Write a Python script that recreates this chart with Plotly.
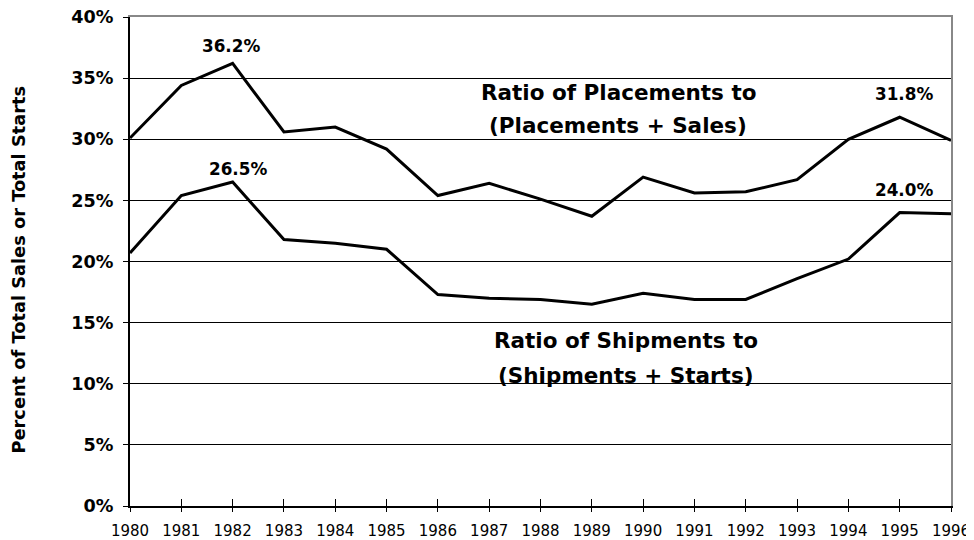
import plotly.graph_objects as go

years = list(range(1980, 1997))
placements_ratio = [30.1, 34.4, 36.2, 30.6, 31.0, 29.2, 25.4, 26.4, 25.1, 23.7,
                    26.9, 25.6, 25.7, 26.7, 30.0, 31.8, 29.9]
shipments_ratio = [20.7, 25.4, 26.5, 21.8, 21.5, 21.0, 17.3, 17.0, 16.9, 16.5,
                   17.4, 16.9, 16.9, 18.6, 20.2, 24.0, 23.9]
y_ticks = [0, 5, 10, 15, 20, 25, 30, 35, 40]
y_tick_labels = [f"{v}%" for v in y_ticks]
placements_label = ["Ratio of Placements to", "(Placements + Sales)"]
shipments_label = ["Ratio of Shipments to", "(Shipments + Starts)"]
y_title = "Percent of Total Sales or Total Starts"

FONT = "DejaVu Sans, sans-serif"

fig = go.Figure()
fig.add_trace(go.Scatter(x=years, y=placements_ratio, mode="lines",
                         line=dict(color="black", width=3), showlegend=False,
                         cliponaxis=False, hoverinfo="x+y"))
fig.add_trace(go.Scatter(x=years, y=shipments_ratio, mode="lines",
                         line=dict(color="black", width=3), showlegend=False,
                         cliponaxis=False, hoverinfo="x+y"))
# helper traces so the overlay axes (border + crossing ticks) are drawn
fig.add_trace(go.Scatter(x=[years[0]], y=[y_ticks[0]], xaxis="x2", yaxis="y2",
                         mode="markers", marker=dict(opacity=0), showlegend=False,
                         hoverinfo="skip"))
fig.add_trace(go.Scatter(x=[years[0]], y=[y_ticks[0]], xaxis="x3", yaxis="y",
                         mode="markers", marker=dict(opacity=0), showlegend=False,
                         hoverinfo="skip"))

# peak value labels
for series, idx, yshift, xshift in [(placements_ratio, 2, 17, -2),
                                    (shipments_ratio, 2, 13, 5),
                                    (placements_ratio, 15, 23, 4),
                                    (shipments_ratio, 15, 23, 4)]:
    fig.add_annotation(x=years[idx], y=series[idx], text=f"<b>{series[idx]:.1f}%</b>",
                       showarrow=False, yshift=yshift, xshift=xshift, yanchor="middle",
                       font=dict(family=FONT, size=16.8, color="black"))

# series descriptions (one annotation per line for exact spacing)
for text, xv, yv in [(placements_label[0], 1989.52, 33.8),
                     (placements_label[1], 1989.52, 31.1),
                     (shipments_label[0], 1989.66, 13.5),
                     (shipments_label[1], 1989.66, 10.7)]:
    fig.add_annotation(x=xv, y=yv, text=f"<b>{text}</b>", showarrow=False,
                       font=dict(family=FONT, size=21.5, color="black"),
                       xanchor="center", yanchor="middle")

# y-axis title
fig.add_annotation(xref="paper", yref="paper", x=0, y=0.5, xshift=-112, yshift=-8,
                   text=f"<b>{y_title}</b>", textangle=-90, showarrow=False,
                   font=dict(family=FONT, size=17.8, color="black"),
                   xanchor="center", yanchor="middle")

fig.update_layout(
    width=974, height=540,
    margin=dict(l=122, r=31, t=9, b=42, autoexpand=False),
    paper_bgcolor="white", plot_bgcolor="white",
    font=dict(family=FONT, color="black"),
    xaxis=dict(range=[1980, 1996], tickmode="array", tickvals=years,
               ticktext=[str(y) for y in years], automargin=False,
               ticks="outside", ticklen=4, tickcolor="black", tickwidth=1,
               showline=True, linecolor="black", linewidth=2,
               showgrid=False, zeroline=False,
               tickfont=dict(family=FONT, size=15, color="black"),
               ticklabelstandoff=6),
    # overlay x axis: gray top border
    xaxis2=dict(range=[1980, 1996], overlaying="x", side="top", showline=True,
                linecolor="#888888", linewidth=2, showticklabels=False, ticks="",
                showgrid=False, zeroline=False, automargin=False),
    # overlay x axis: upper half of crossing ticks on the bottom axis
    xaxis3=dict(range=[1980, 1996], overlaying="x", side="bottom", anchor="y",
                tickmode="array", tickvals=years, ticks="inside", ticklen=7,
                tickcolor="black", tickwidth=1, showticklabels=False,
                showline=False, showgrid=False, zeroline=False, automargin=False),
    yaxis=dict(range=[0, 40], tickmode="array", tickvals=y_ticks,
               ticktext=[t + "\u00a0" for t in y_tick_labels],
               automargin=False, ticklabeloverflow="allow",
               ticks="outside", ticklen=5, tickcolor="black", tickwidth=1,
               showline=True, linecolor="black", linewidth=2,
               showgrid=True, gridcolor="black", gridwidth=1, zeroline=False,
               tickfont=dict(family=FONT, size=17.6, color="black", weight="bold")),
    # overlay y axis: gray right border
    yaxis2=dict(range=[0, 40], overlaying="y", side="right", anchor="x2", showline=True,
                linecolor="#888888", linewidth=2, showticklabels=False, ticks="",
                showgrid=False, zeroline=False, automargin=False),
)

fig.write_html("out.html")
